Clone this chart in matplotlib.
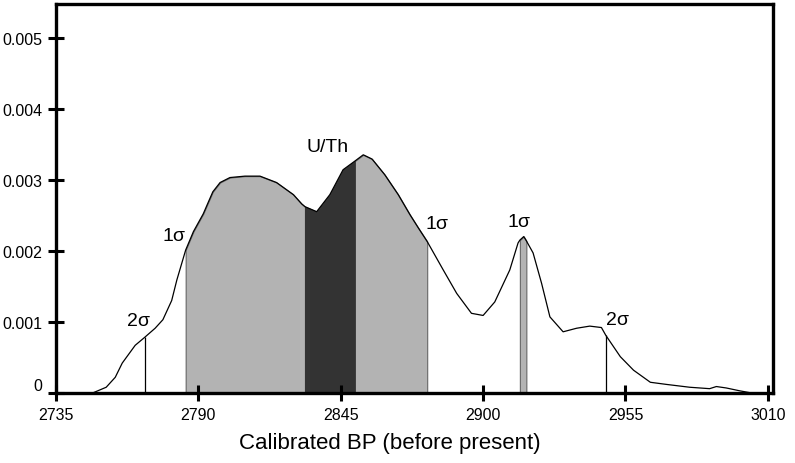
import numpy as np
import matplotlib.pyplot as plt

plt.rcParams['font.family'] = ['Liberation Sans', 'DejaVu Sans']

# calibrated age (BP) and probability density
years = [2749.2, 2754.4, 2757.9, 2760.6, 2765.6, 2769.2, 2773.3, 2776.3, 2779.7,
         2781.7, 2785.1, 2788.1, 2791.9, 2793.8, 2795.6, 2798.4, 2802.2, 2808.0,
         2813.8, 2820.2, 2826.7, 2829.9, 2831.2, 2835.7, 2840.8, 2845.9, 2850.4,
         2853.7, 2857.1, 2862.0, 2867.2, 2871.7, 2875.0, 2878.4, 2884.6, 2889.8,
         2895.5, 2900.0, 2904.5, 2910.3, 2913.5, 2914.2, 2915.7, 2916.7, 2919.3,
         2922.6, 2925.8, 2930.9, 2936.1, 2941.2, 2945.7, 2947.4, 2953.0, 2958.1,
         2964.6, 2970.8, 2979.8, 2987.5, 2990.1, 2993.9, 2999.1, 3003.6]
prob = [0.0, 0.00008, 0.00022, 0.00042, 0.00067, 0.00078, 0.00091, 0.00103, 0.0013,
        0.00159, 0.00201, 0.00227, 0.00252, 0.00268, 0.00283, 0.00296, 0.00303, 0.00305,
        0.00305, 0.00296, 0.00279, 0.00266, 0.00262, 0.00255, 0.00279, 0.00314, 0.00326,
        0.00335, 0.00329, 0.00307, 0.00279, 0.00251, 0.00232, 0.00213, 0.00173, 0.0014,
        0.00112, 0.00109, 0.00128, 0.00173, 0.00211, 0.00215, 0.0022, 0.00214, 0.00197,
        0.00154, 0.00107, 0.00086, 0.00091, 0.00094, 0.00092, 0.00081, 0.00051, 0.00032,
        0.00015, 0.00012, 0.00008, 0.00006, 0.00009, 0.00007, 0.00003, 0.0]

# ranges
one_sigma = [(2785.1, 2831.2), (2850.4, 2878.4), (2914.2, 2916.7)]
uth_range = (2831.2, 2850.4)
two_sigma_x = [2769.2, 2947.4]
two_sigma_y = [0.00078, 0.00081]

labels = ['2σ', '1σ', 'U/Th', '1σ', '1σ', '2σ']
label_x = [2766.7, 2780.6, 2840.0, 2882.0, 2914.0, 2952.0]
label_y = [0.00102, 0.00221, 0.00347, 0.00238, 0.00241, 0.00104]

xticks = [2735, 2790, 2845, 2900, 2955, 3010]
yticks = [0, 0.001, 0.002, 0.003, 0.004, 0.005]
ytick_labels = ['0', '0.001', '0.002', '0.003', '0.004', '0.005']

x = np.array(years)
y = np.array(prob)

fig = plt.figure(figsize=(7.95, 4.64), dpi=100)
ax = fig.add_axes([0.0704, 0.151, 0.902, 0.838])

for a, b in one_sigma:
    ax.fill_between(x, 0, y, where=(x >= a) & (x <= b), color='#b3b3b3',
                    edgecolor='#666666', linewidth=0.8)
ax.fill_between(x, 0, y, where=(x >= uth_range[0]) & (x <= uth_range[1]),
                color='#333333', edgecolor='#333333', linewidth=0.8)
ax.vlines(two_sigma_x, 0, two_sigma_y, color='black', linewidth=0.9)
ax.plot(x, y, color='black', linewidth=0.9)

for t, lx, ly in zip(labels, label_x, label_y):
    ax.text(lx, ly, t, fontsize=14, ha='center', va='center')

ax.set_xlim(2735, 3012)
ax.set_ylim(0, 0.00547)
ax.set_xticks(xticks)
ax.set_yticks(yticks)
ax.set_yticklabels(ytick_labels)
ax.get_yticklabels()[0].set_va('bottom')
ax.tick_params(direction='inout', length=12, width=2.2, labelsize=11.5, pad=4)
for s in ax.spines.values():
    s.set_linewidth(2.4)
ax.set_xlabel('Calibrated BP (before present)', fontsize=16, labelpad=8)
ax.xaxis.set_label_coords(0.466, -0.10)

fig.savefig('out.png', dpi=100)
